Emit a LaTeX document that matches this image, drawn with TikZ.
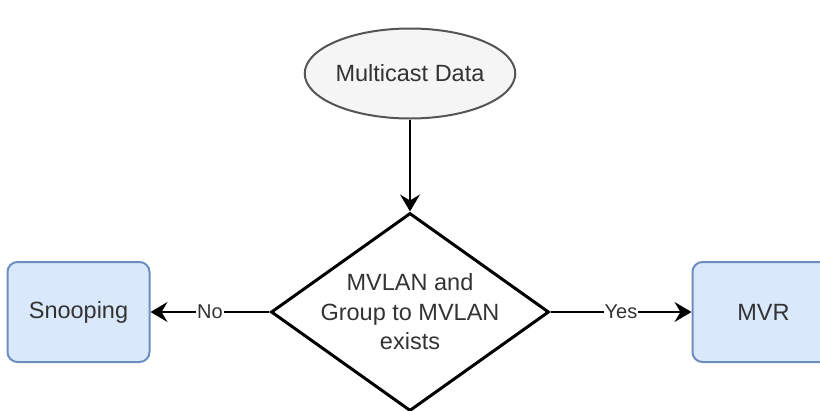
\documentclass[tikz,border=0pt]{standalone}
\usepackage{fontspec}
\setmainfont{Liberation Sans}
\usetikzlibrary{positioning,arrows.meta,shapes.geometric}
\definecolor{txtgray}{HTML}{333333}
\definecolor{ellfill}{HTML}{F5F5F5}
\definecolor{elldraw}{HTML}{555555}
\definecolor{boxfill}{HTML}{DAE8FC}
\definecolor{boxdraw}{HTML}{6C8EBF}
\begin{document}
\begin{tikzpicture}[x=1pt, y=-1pt, font=\fontsize{23.5}{29.5}\selectfont, text=txtgray,
  term/.style={ellipse, draw=elldraw, fill=ellfill, line width=2pt, minimum width=204pt, minimum height=90pt, inner sep=0pt},
  dec/.style={diamond, draw=black, line width=3pt, minimum width=278pt, minimum height=198pt, inner sep=0pt},
  act/.style={rectangle, rounded corners=10pt, draw=boxdraw, fill=boxfill, line width=2pt, minimum width=142pt, minimum height=100pt},
  e/.style={-{Stealth[length=17pt, width=20pt, inset=6pt]}, line width=1.6pt},
  lbl/.style={fill=white, inner sep=1pt, font=\fontsize{20}{24}\selectfont}]
\useasboundingbox (0,0) rectangle (820,410);
\node[dec, label={[align=center]center:MVLAN and\\Group to MVLAN\\exists}] (check) at (410,312) {};
\node[term, above=92pt of check] (data) {Multicast Data};
\node[act, left=119pt of check] (snoop) {Snooping};
\node[act, right=141pt of check] (mvr) {MVR};
\draw[e] (data) -- (check);
\draw[e] (check) -- node[lbl] {No} (snoop);
\draw[e] (check) -- node[lbl] {Yes} (mvr);
\end{tikzpicture}
\end{document}
